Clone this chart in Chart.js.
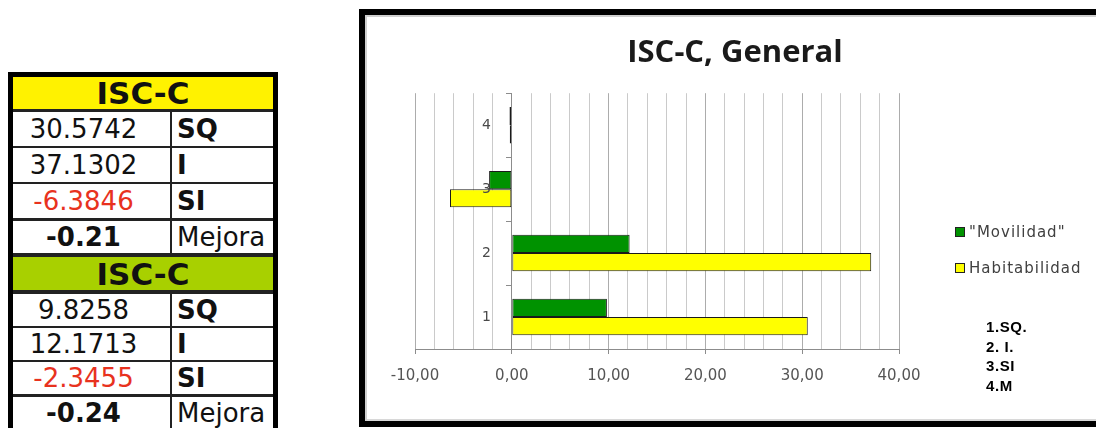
<!DOCTYPE html>
<html lang="es">
<head>
<meta charset="utf-8">
<title>ISC-C, General</title>
<script src="https://cdn.jsdelivr.net/npm/chart.js@4.4.1/dist/chart.umd.min.js"></script>
<style>
  html, body { margin: 0; padding: 0; background: #fff; overflow: hidden; }
  body { width: 1096px; height: 428px; position: relative; }

  #tabla { position: absolute; left: 8px; top: 72px; width: 260px; border: 5px solid #000; border-bottom: none; background: #fff; font-family: "DejaVu Sans", Verdana, sans-serif; color: #111; }
  .fila { display: flex; align-items: stretch; border-top: 2px solid #222; }
  .fila > div { display: flex; align-items: center; }
  .cab { justify-content: center; width: 100%; font-weight: bold; font-size: 31px; }
  .num { width: 141px; padding-right: 16px; justify-content: center; font-size: 26px; }
  .etq { flex: 1; border-left: 2px solid #222; padding-left: 5px; font-size: 26px; font-weight: bold; }
  .etq.normal { font-weight: normal; }
  .rojo { color: #e8321e; }
  .negrita { font-weight: bold; }

  #marco { position: absolute; left: 359px; top: 9px; width: 800px; height: 406px; border: 6px solid #000; border-right: none; box-shadow: inset 2px 2px 0 #cfcfcf, inset 0 -2px 0 #d8d8d8; }
  #caja { position: absolute; left: 365px; top: 15px; width: 731px; height: 406px; }

  #leyenda { position: absolute; left: 955px; top: 222px; font-family: "DejaVu Sans", sans-serif; font-size: 15px; letter-spacing: 1px; color: #404040; }
  #leyenda .item { display: flex; align-items: center; height: 20px; margin-bottom: 16px; white-space: nowrap; }
  #leyenda .caja { width: 8px; height: 8px; border: 1px solid #222; margin-right: 4px; }

  #notas { position: absolute; left: 986px; top: 317px; font-family: "Liberation Sans", Arial, sans-serif; font-weight: bold; font-size: 15px; line-height: 19.5px; color: #000; letter-spacing: 0.6px; }
</style>
</head>
<body>

<div id="tabla"></div>
<div id="marco"></div>
<div id="caja"><canvas id="grafico"></canvas></div>
<div id="leyenda"></div>
<div id="notas"></div>

<script>
// 1 = SQ, 2 = I, 3 = SI, 4 = M (mejora)
const categorias = ['1', '2', '3', '4'];
const etiquetasFila = ['SQ', 'I', 'SI', 'Mejora'];
const movilidad = [9.8258, 12.1713, -2.3455, -0.24];
const habitabilidad = [30.5742, 37.1302, -6.3846, -0.21];
const notas = ['1.SQ.', '2. I.', '3.SI', '4.M'];

const xMin = -10;
const xMax = 40;
const xPaso = 2;

const VERDE = '#009200';
const AMARILLO = '#ffff00';

// ---- tabla de la izquierda ----
const bloques = [
  { titulo: 'ISC-C', fondo: '#fff200', valores: habitabilidad },
  { titulo: 'ISC-C', fondo: '#a8d000', valores: movilidad }
];
// alto de cada fila y grosor de la linea de arriba
const altos = [[32, 0], [34, 3], [34, 2], [34, 2], [32, 3], [33, 4], [32, 4], [32, 2], [32, 2], [32, 3]];

function armarTabla() {
  const tabla = document.getElementById('tabla');
  let n = 0;
  bloques.forEach(b => {
    const cab = document.createElement('div');
    cab.className = 'fila';
    cab.innerHTML = `<div class="cab">${b.titulo}</div>`;
    cab.style.background = b.fondo;
    filaMedidas(cab, altos[n++]);
    tabla.appendChild(cab);

    b.valores.forEach((v, i) => {
      const fila = document.createElement('div');
      fila.className = 'fila';
      const esMejora = i === b.valores.length - 1;
      const texto = esMejora ? v.toFixed(2) : v.toFixed(4);
      let clase = 'num';
      if (esMejora) clase += ' negrita';
      else if (v < 0) clase += ' rojo';
      fila.innerHTML = `<div class="${clase}">${texto}</div>` +
        `<div class="etq${esMejora ? ' normal' : ''}">${etiquetasFila[i]}</div>`;
      filaMedidas(fila, altos[n++]);
      tabla.appendChild(fila);
    });
  });
}

function filaMedidas(el, m) {
  el.style.height = m[0] + 'px';
  el.style.borderTopWidth = m[1] + 'px';
  if (m[1] === 0) el.style.borderTop = 'none';
}

armarTabla();

document.getElementById('notas').innerHTML = notas.map(t => `<div>${t}</div>`).join('');

// ---- leyenda en html, sacada de los datasets del grafico ----
const leyendaHtml = {
  id: 'leyendaHtml',
  afterUpdate(chart) {
    const cont = document.getElementById('leyenda');
    const items = Chart.defaults.plugins.legend.labels.generateLabels(chart);
    cont.innerHTML = items.map(it =>
      `<div class="item"><span class="caja" style="background:${it.fillStyle}"></span>${it.text}</div>`
    ).join('');
  }
};

function formatoComa(v) {
  return v.toFixed(2).replace('.', ',');
}

const ctx = document.getElementById('grafico');
const grafico = new Chart(ctx, {
  type: 'bar',
  data: {
    labels: categorias,
    datasets: [
      {
        label: '"Movilidad"',
        data: movilidad,
        backgroundColor: VERDE,
        borderColor: '#1a1a1a',
        borderWidth: 1,
        borderSkipped: false
      },
      {
        label: 'Habitabilidad',
        data: habitabilidad,
        backgroundColor: AMARILLO,
        borderColor: '#1a1a1a',
        borderWidth: 1,
        borderSkipped: false
      }
    ]
  },
  options: {
    indexAxis: 'y',
    responsive: true,
    maintainAspectRatio: false,
    animation: false,
    categoryPercentage: 0.57,
    barPercentage: 1.0,
    layout: { padding: { left: 50, right: 41, top: 0, bottom: 23 } },
    plugins: {
      legend: { display: false },
      tooltip: { enabled: false },
      title: {
        display: true,
        text: 'ISC-C, General',
        color: '#1a1a1a',
        font: { family: '"Open Sans", sans-serif', size: 31, weight: 'bold' },
        padding: { top: 20, bottom: 21 }
      }
    },
    scales: {
      x: {
        type: 'linear',
        min: xMin,
        max: xMax,
        position: 'bottom',
        ticks: {
          stepSize: xPaso,
          autoSkip: false,
          maxRotation: 0,
          padding: 13,
          color: '#555',
          font: { family: '"DejaVu Sans", sans-serif', size: 15 },
          callback: v => (v % 10 === 0 ? formatoComa(v) : '')
        },
        grid: {
          color: c => (c.tick && c.tick.value % 10 === 0 ? '#acacac' : '#cacaca'),
          tickColor: c => (c.tick && c.tick.value % 10 === 0 ? '#8c8c8c' : 'rgba(0,0,0,0)'),
          tickLength: 5,
          lineWidth: 1
        },
        border: { color: '#8c8c8c', width: 1 }
      },
      y: {
        type: 'category',
        reverse: true,
        offset: true,
        position: { x: 0 },
        ticks: {
          z: 1,
          color: '#4a4a4a',
          font: { family: '"DejaVu Sans", sans-serif', size: 14 },
          // el eje va en x = 0 y las etiquetas quedan pegadas: se separan con espacios
          callback: function (v) { return this.getLabelForValue(v) + '\u2003\u2002'; }
        },
        grid: {
          offset: true,
          drawOnChartArea: false,
          tickLength: 5,
          tickColor: '#8c8c8c'
        },
        border: { color: '#8c8c8c', width: 1 }
      },
      // eje vacio a la derecha: deja el hueco donde va la leyenda
      hueco: {
        type: 'category',
        axis: 'y',
        position: 'right',
        grid: { display: false },
        border: { display: false },
        ticks: { display: false },
        afterFit: s => { s.width = 156; }
      }
    }
  },
  plugins: [leyendaHtml]
});
</script>
</body>
</html>
